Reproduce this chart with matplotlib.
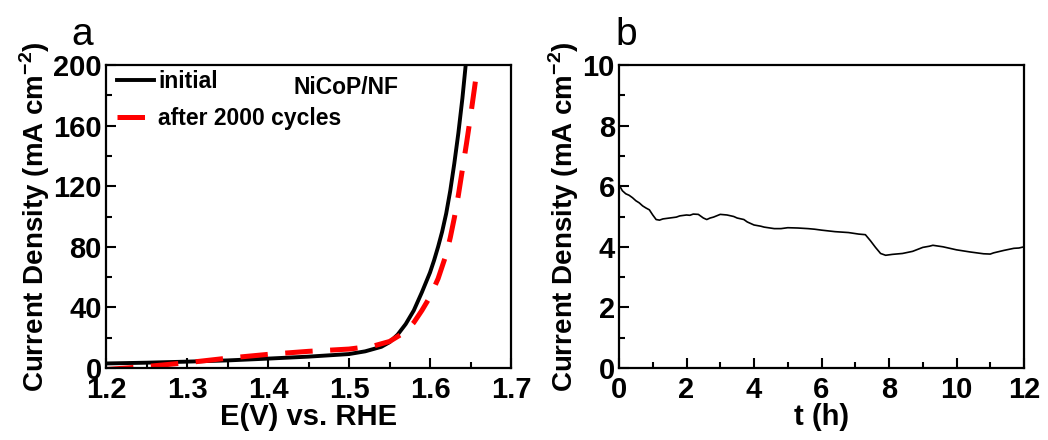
import matplotlib
matplotlib.use("Agg")
import matplotlib.pyplot as plt
from matplotlib.ticker import MultipleLocator

plt.rcParams["font.family"] = ["Liberation Sans", "DejaVu Sans"]
plt.rcParams["mathtext.fontset"] = "custom"
plt.rcParams["mathtext.bf"] = "Liberation Sans:bold"
plt.rcParams["mathtext.rm"] = "Liberation Sans:bold"

# panel a: polarisation curves
e_initial = [1.20, 1.25, 1.30, 1.35, 1.40, 1.45, 1.50, 1.52, 1.54, 1.55, 1.56, 1.57,
             1.58, 1.59, 1.60, 1.605, 1.61, 1.615, 1.62, 1.625, 1.63, 1.635, 1.64, 1.645]
j_initial = [3.0, 3.5, 4.2, 5.0, 6.2, 7.5, 9.2, 11.0, 14.0, 17.0, 22.0, 29.0,
             38.0, 50.0, 63.0, 71.0, 80.0, 90.0, 102.0, 117.0, 135.0, 155.0, 178.0, 205.0]
e_cycled = [1.20, 1.25, 1.30, 1.35, 1.40, 1.45, 1.50, 1.53, 1.55, 1.57, 1.58, 1.59,
            1.60, 1.61, 1.62, 1.625, 1.63, 1.635, 1.64, 1.645, 1.65, 1.655, 1.66]
j_cycled = [-1.0, 1.0, 3.5, 6.5, 9.0, 11.0, 12.5, 14.5, 17.5, 24.0, 30.0, 38.0,
            47.0, 59.0, 75.0, 86.0, 99.0, 114.0, 131.0, 148.0, 166.0, 185.0, 205.0]

# panel b: chronoamperometry
t_h = [0.0, 0.05, 0.1, 0.2, 0.3, 0.4, 0.5, 0.6, 0.7, 0.8, 0.9, 1.0, 1.1, 1.2, 1.3,
       1.5, 1.7, 1.8, 2.0, 2.1, 2.2, 2.35, 2.5, 2.6, 2.7, 2.8, 3.0, 3.2, 3.4, 3.5,
       3.7, 3.8, 4.0, 4.2, 4.3, 4.6, 4.8, 5.0, 5.3, 5.6, 5.8, 6.0, 6.4, 6.8, 7.1,
       7.3, 7.45, 7.6, 7.75, 7.9, 8.1, 8.4, 8.7, 9.0, 9.2, 9.3, 9.6, 10.0, 10.4,
       10.8, 11.0, 11.1, 11.4, 11.7, 11.85, 12.0]
j_t = [6.05, 5.95, 5.85, 5.75, 5.7, 5.62, 5.52, 5.45, 5.35, 5.28, 5.22, 5.05, 4.9,
       4.88, 4.92, 4.95, 4.98, 5.02, 5.05, 5.04, 5.08, 5.07, 4.95, 4.9, 4.95, 4.98,
       5.07, 5.05, 5.0, 4.95, 4.9, 4.82, 4.72, 4.68, 4.65, 4.6, 4.6, 4.63, 4.62,
       4.6, 4.58, 4.55, 4.5, 4.47, 4.42, 4.4, 4.2, 3.98, 3.78, 3.72, 3.75, 3.78,
       3.85, 3.98, 4.02, 4.05, 4.0, 3.9, 3.83, 3.77, 3.76, 3.8, 3.88, 3.95, 3.96, 4.0]

fig = plt.figure(figsize=(10.48, 4.4), dpi=100)
ax_a = fig.add_axes([106 / 1048, 1 - 368 / 440, 405 / 1048, 303 / 440])
ax_b = fig.add_axes([619 / 1048, 1 - 368 / 440, 405 / 1048, 303 / 440])

ax_a.plot(e_initial, j_initial, color="black", lw=2.8, label="initial")
ax_a.plot(e_cycled, j_cycled, color="red", lw=3.6, ls=(0, (5.5, 3.5)),
          label="after 2000 cycles")
ax_a.set_xlim(1.2, 1.7)
ax_a.set_ylim(0, 200)
ax_a.xaxis.set_major_locator(MultipleLocator(0.1))
ax_a.xaxis.set_minor_locator(MultipleLocator(0.05))
ax_a.yaxis.set_major_locator(MultipleLocator(40))
ax_a.yaxis.set_minor_locator(MultipleLocator(20))
ax_a.set_xlabel("E(V) vs. RHE", fontsize=21, fontweight="bold", labelpad=-1)
ax_a.legend(loc="upper left", bbox_to_anchor=(11 / 405, 0.985), frameon=False,
            handlelength=1.6, handletextpad=0.2, borderaxespad=0, borderpad=0,
            labelspacing=0.62, prop={"weight": "bold", "size": 16.5})
ax_a.text(0.463, 0.925, "NiCoP/NF", transform=ax_a.transAxes, fontsize=16.5,
          fontweight="bold", va="center")
fig.text(82 / 1048, 1 - 45 / 440, "a", fontsize=28, ha="center", va="baseline")

ax_b.plot(t_h, j_t, color="black", lw=1.2)
ax_b.set_xlim(0, 12)
ax_b.set_ylim(0, 10)
ax_b.xaxis.set_major_locator(MultipleLocator(2))
ax_b.xaxis.set_minor_locator(MultipleLocator(1))
ax_b.yaxis.set_major_locator(MultipleLocator(2))
ax_b.yaxis.set_minor_locator(MultipleLocator(1))
ax_b.set_xlabel("t (h)", fontsize=21, fontweight="bold", labelpad=-1)
fig.text(626 / 1048, 1 - 45 / 440, "b", fontsize=28, ha="center", va="baseline")

for ax in (ax_a, ax_b):
    ax.set_ylabel(r"Current Density (mA cm$^{\mathbf{-2}}$)", fontsize=20,
                  fontweight="bold", labelpad=1)
    ax.tick_params(which="both", direction="in", top=False, right=False, width=1.5)
    ax.tick_params(which="major", length=7, labelsize=21, pad=3)
    ax.tick_params(axis="x", which="major", pad=6)
    ax.tick_params(which="minor", length=4)
    for lab in ax.get_xticklabels() + ax.get_yticklabels():
        lab.set_fontweight("bold")
    for sp in ax.spines.values():
        sp.set_linewidth(1.6)

fig.savefig("out.png", dpi=100)
